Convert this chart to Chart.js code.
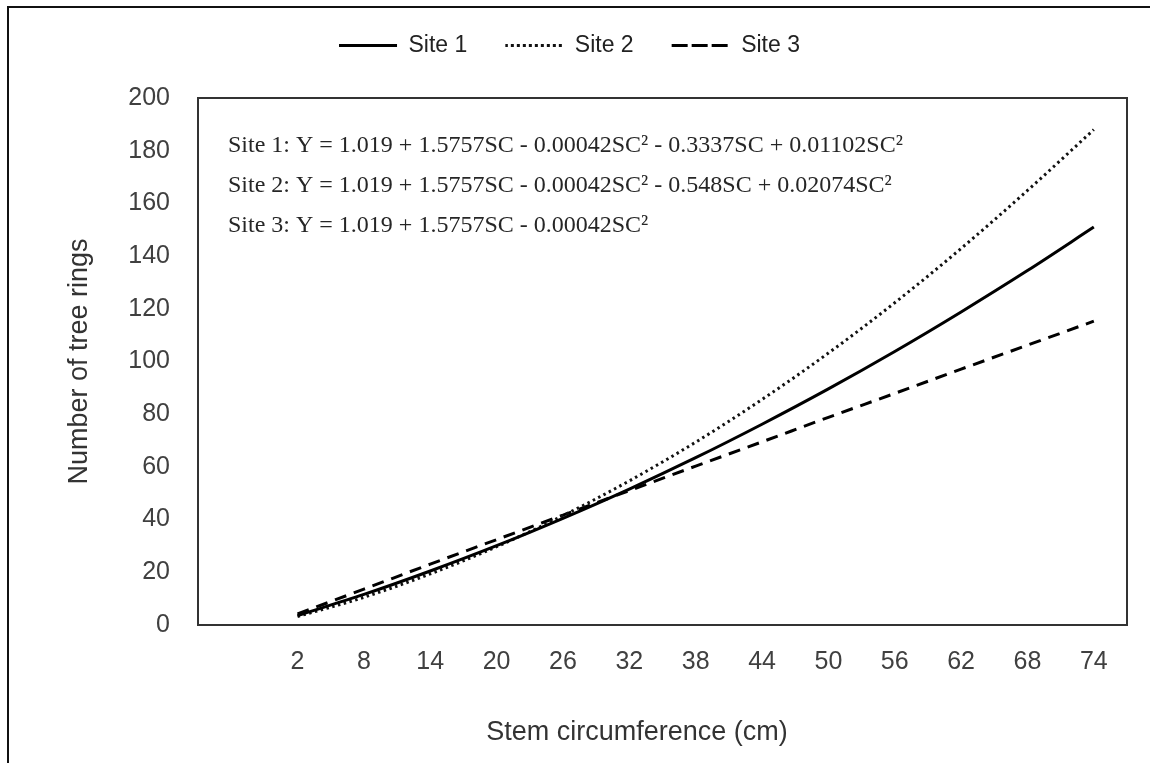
<!DOCTYPE html>
<html>
<head>
<meta charset="utf-8">
<script src="https://cdn.jsdelivr.net/npm/chart.js@4.4.1/dist/chart.umd.min.js"></script>
<style>
  html, body { margin: 0; padding: 0; background: #fff; }
  #wrap { position: relative; width: 1150px; height: 763px; overflow: hidden; }
  #frame { position: absolute; left: 7px; top: 6px; width: 1160px; height: 780px;
           border-top: 2px solid #111; border-left: 2px solid #111; pointer-events: none; }
</style>
</head>
<body>
<div id="wrap">
  <canvas id="chart" width="1150" height="763"></canvas>
  <div id="frame"></div>
</div>
<script>
// START OF DATA
const circumference = [2, 8, 14, 20, 26, 32, 38, 44, 50, 56, 62, 68, 74];
const site1Rings = [3.6, 11.6, 20.5, 30.1, 40.5, 51.6, 63.5, 76.2, 89.6, 103.8, 118.8, 134.5, 151.0];
const site2Rings = [3.2, 10.5, 19.4, 29.7, 41.5, 54.7, 69.4, 85.6, 103.2, 122.3, 142.9, 164.9, 188.0];
const site3Rings = [4.2, 13.6, 23.1, 32.4, 41.7, 51.0, 60.3, 69.5, 78.8, 87.9, 97.1, 106.2, 115.3];
const seriesNames = ['Site 1', 'Site 2', 'Site 3'];
const equations = [
    'Site 1: Y = 1.019 + 1.5757SC - 0.00042SC² - 0.3337SC + 0.01102SC²',
    'Site 2: Y = 1.019 + 1.5757SC - 0.00042SC² - 0.548SC + 0.02074SC²',
    'Site 3: Y = 1.019 + 1.5757SC - 0.00042SC²'
];
const xTitle = 'Stem circumference (cm)';
const yTitle = 'Number of tree rings';
// END OF DATA

const sans = '"Liberation Sans", Arial, sans-serif';
const serif = '"Liberation Serif", "Times New Roman", serif';

function toPoints(values) {
    return circumference.map((x, i) => ({ x: x, y: values[i] }));
}

// extra room between legend and plot
const legendSpacer = {
    id: 'legendSpacer',
    beforeInit(chart) {
        const fit = chart.legend.fit;
        chart.legend.fit = function () {
            fit.call(this);
            this.height += 31;
        };
    }
};

// plot frame, equations and axis titles
const decorations = {
    id: 'decorations',
    afterDraw(chart) {
        const { ctx, chartArea: a } = chart;
        ctx.save();
        ctx.strokeStyle = '#333';
        ctx.lineWidth = 2;
        ctx.strokeRect(a.left, a.top, a.right - a.left, a.bottom - a.top);

        ctx.fillStyle = '#262626';
        ctx.font = '24px ' + serif;
        ctx.textBaseline = 'middle';
        ctx.textAlign = 'left';
        equations.forEach((t, i) => ctx.fillText(t, a.left + 30, a.top + 48 + i * 40));

        ctx.font = '27px ' + sans;
        ctx.fillStyle = '#333';
        ctx.textAlign = 'center';
        ctx.fillText(xTitle, 637, 733);
        ctx.translate(80, (a.top + a.bottom) / 2);
        ctx.rotate(-Math.PI / 2);
        ctx.fillText(yTitle, 0, 0);
        ctx.restore();
    }
};

const ctx = document.getElementById('chart');
new Chart(ctx, {
    type: 'line',
    data: {
        datasets: [{
            label: seriesNames[0],
            data: toPoints(site1Rings),
            borderColor: '#000',
            backgroundColor: '#000',
            borderWidth: 3,
        }, {
            label: seriesNames[1],
            data: toPoints(site2Rings),
            borderColor: '#111',
            backgroundColor: '#111',
            borderWidth: 3,
            borderDash: [2.5, 3.5],
        }, {
            label: seriesNames[2],
            data: toPoints(site3Rings),
            borderColor: '#000',
            backgroundColor: '#000',
            borderWidth: 3,
            borderDash: [12, 8],
        }]
    },
    options: {
        responsive: false,
        animation: false,
        elements: {
            point: { radius: 0 },
            line: { cubicInterpolationMode: 'monotone', fill: false }
        },
        layout: { padding: { left: 12, right: 23, top: -4, bottom: 0 } },
        plugins: {
            legend: {
                position: 'top',
                labels: {
                    boxWidth: 58,
                    boxHeight: 0,
                    padding: 38,
                    color: '#222',
                    font: { family: sans, size: 23 }
                }
            },
            tooltip: { enabled: false }
        },
        scales: {
            x: {
                type: 'linear',
                min: -7,
                max: 77,
                grid: { display: false },
                border: { display: false },
                afterBuildTicks(scale) {
                    scale.ticks = circumference.map(v => ({ value: v }));
                },
                afterFit(scale) { scale.height = 138; },
                ticks: {
                    padding: 14,
                    color: '#404040',
                    maxRotation: 0,
                    autoSkip: false,
                    font: { family: sans, size: 25 }
                }
            },
            y: {
                min: 0,
                max: 200,
                grid: { display: false },
                border: { display: false },
                afterFit(scale) { scale.width = 186; },
                ticks: {
                    stepSize: 20,
                    padding: 20,
                    color: '#404040',
                    font: { family: sans, size: 25 }
                }
            }
        }
    },
    plugins: [legendSpacer, decorations]
});
</script>
</body>
</html>
